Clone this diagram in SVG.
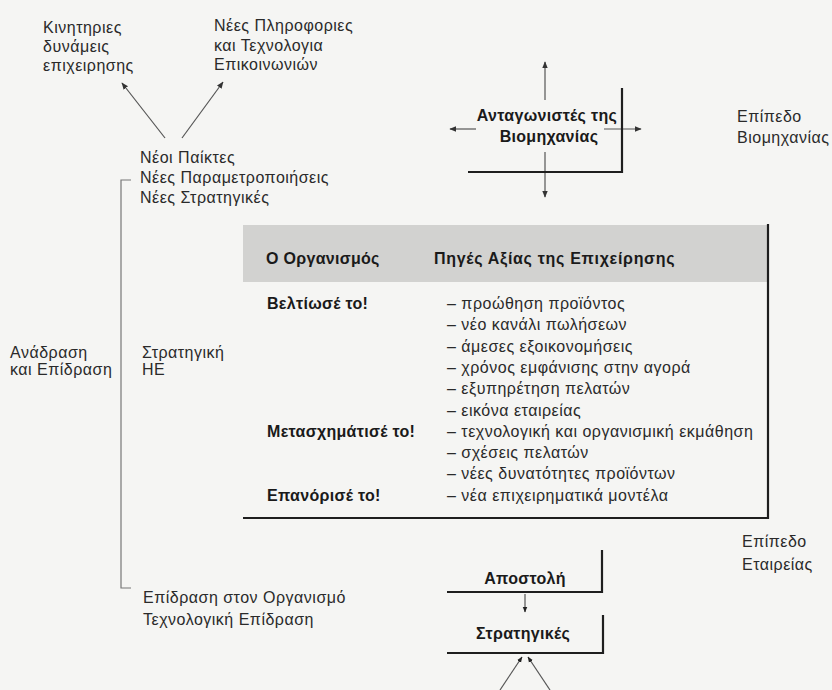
<svg xmlns="http://www.w3.org/2000/svg" width="832" height="690" viewBox="0 0 832 690">
<defs>
<marker id="ah" viewBox="0 0 10 10" refX="9" refY="5" markerWidth="7" markerHeight="7" orient="auto" markerUnits="userSpaceOnUse">
<path d="M0,1 L10,5 L0,9 z" fill="#333"/>
</marker>
<marker id="ahs" viewBox="0 0 10 10" refX="9" refY="5" markerWidth="6" markerHeight="6" orient="auto" markerUnits="userSpaceOnUse">
<path d="M0,1 L10,5 L0,9 z" fill="#222"/>
</marker>
</defs>
<style>
text{font-family:"Liberation Sans",Arial,"DejaVu Sans",sans-serif;fill:#2a2a2a;font-size:16px;letter-spacing:0.5px}
.b{font-weight:bold;fill:#1a1a1a;letter-spacing:0.3px}
.h{letter-spacing:0.7px}
.m{text-anchor:middle}
.thin{stroke:#555;stroke-width:1.2;fill:none}
.fb{stroke:#777;stroke-width:1.2;fill:none}
.box{stroke:#1e1e1e;stroke-width:2.2;fill:none}
</style>
<rect width="832" height="690" fill="#f5f5f3"/>

<g id="connectors">
<line class="thin" x1="165" y1="138" x2="122" y2="83" marker-end="url(#ah)"/>
<line class="thin" x1="182" y1="138" x2="223" y2="82" marker-end="url(#ah)"/>
<polyline class="fb" points="131,180 121,180 121,588 131,588"/>
<line class="thin" x1="545" y1="100" x2="545" y2="62" marker-end="url(#ah)"/>
<line class="thin" x1="545" y1="152" x2="545" y2="197" marker-end="url(#ah)"/>
<line class="thin" x1="476" y1="129" x2="450" y2="129" marker-end="url(#ah)"/>
<line class="thin" x1="604" y1="129" x2="641" y2="129" marker-end="url(#ah)"/>
<line class="thin" x1="525" y1="594" x2="525" y2="612" marker-end="url(#ahs)"/>
<line class="thin" x1="500" y1="690" x2="522" y2="657" marker-end="url(#ahs)"/>
<line class="thin" x1="550" y1="690" x2="528" y2="657" marker-end="url(#ahs)"/>
</g>

<g id="driving-forces">
<text x="43" y="33">Κινητηριες</text>
<text x="43" y="52">δυνάμεις</text>
<text x="43" y="71">επιχειρησης</text>
</g>

<g id="new-ict">
<text x="214" y="31">Νέες Πληροφοριες</text>
<text x="214" y="51">και Τεχνολογια</text>
<text x="214" y="70">Επικοινωνιών</text>
</g>

<g id="new-players">
<text x="140" y="163">Νέοι Παίκτες</text>
<text x="140" y="183">Νέες Παραμετροποιήσεις</text>
<text x="140" y="203">Νέες Στρατηγικές</text>
</g>

<g id="competitors">
<polyline class="box" points="468,172 622,172 622,88"/>
<text class="b m" x="547" y="121">Ανταγωνιστές της</text>
<text class="b m" x="549" y="142">Βιομηχανίας</text>
</g>

<g id="industry-level">
<text x="737" y="122">Επίπεδο</text>
<text x="737" y="143">Βιομηχανίας</text>
</g>

<g id="feedback">
<text x="10" y="358">Ανάδραση</text>
<text x="10" y="375">και Επίδραση</text>
</g>

<g id="strategic-ee">
<text x="142" y="358">Στρατηγική</text>
<text x="142" y="375">ΗΕ</text>
</g>

<g id="organisation-table">
<rect x="243" y="225" width="525" height="57" fill="#d2d2d0"/>
<polyline class="box" points="243,518 768,518 768,224"/>
<text class="b" x="266" y="264">Ο Οργανισμός</text>
<text class="b h" x="434" y="264">Πηγές Αξίας της Επιχείρησης</text>
<text class="b" x="267" y="309">Βελτίωσέ το!</text>
<text class="b" x="267" y="437">Μετασχημάτισέ το!</text>
<text class="b" x="267" y="501">Επανόρισέ το!</text>
<text x="447" y="309">– προώθηση προϊόντος</text>
<text x="447" y="330">– νέο κανάλι πωλήσεων</text>
<text x="447" y="352">– άμεσες εξοικονομήσεις</text>
<text x="447" y="373">– χρόνος εμφάνισης στην αγορά</text>
<text x="447" y="394">– εξυπηρέτηση πελατών</text>
<text x="447" y="416">– εικόνα εταιρείας</text>
<text x="447" y="437">– τεχνολογική και οργανισμική εκμάθηση</text>
<text x="447" y="458">– σχέσεις πελατών</text>
<text x="447" y="479">– νέες δυνατότητες προϊόντων</text>
<text x="447" y="501">– νέα επιχειρηματικά μοντέλα</text>
</g>

<g id="company-level">
<text x="742" y="547">Επίπεδο</text>
<text x="742" y="570">Εταιρείας</text>
</g>

<g id="impact">
<text x="143" y="603">Επίδραση στον Οργανισμό</text>
<text x="143" y="625">Τεχνολογική Επίδραση</text>
</g>

<g id="mission">
<polyline class="box" points="447,592 602,592 602,550"/>
<text class="b m" x="525" y="584">Αποστολή</text>
</g>

<g id="strategies">
<polyline class="box" points="447,653 603,653 603,615"/>
<text class="b m" x="523" y="639">Στρατηγικές</text>
</g>
</svg>
